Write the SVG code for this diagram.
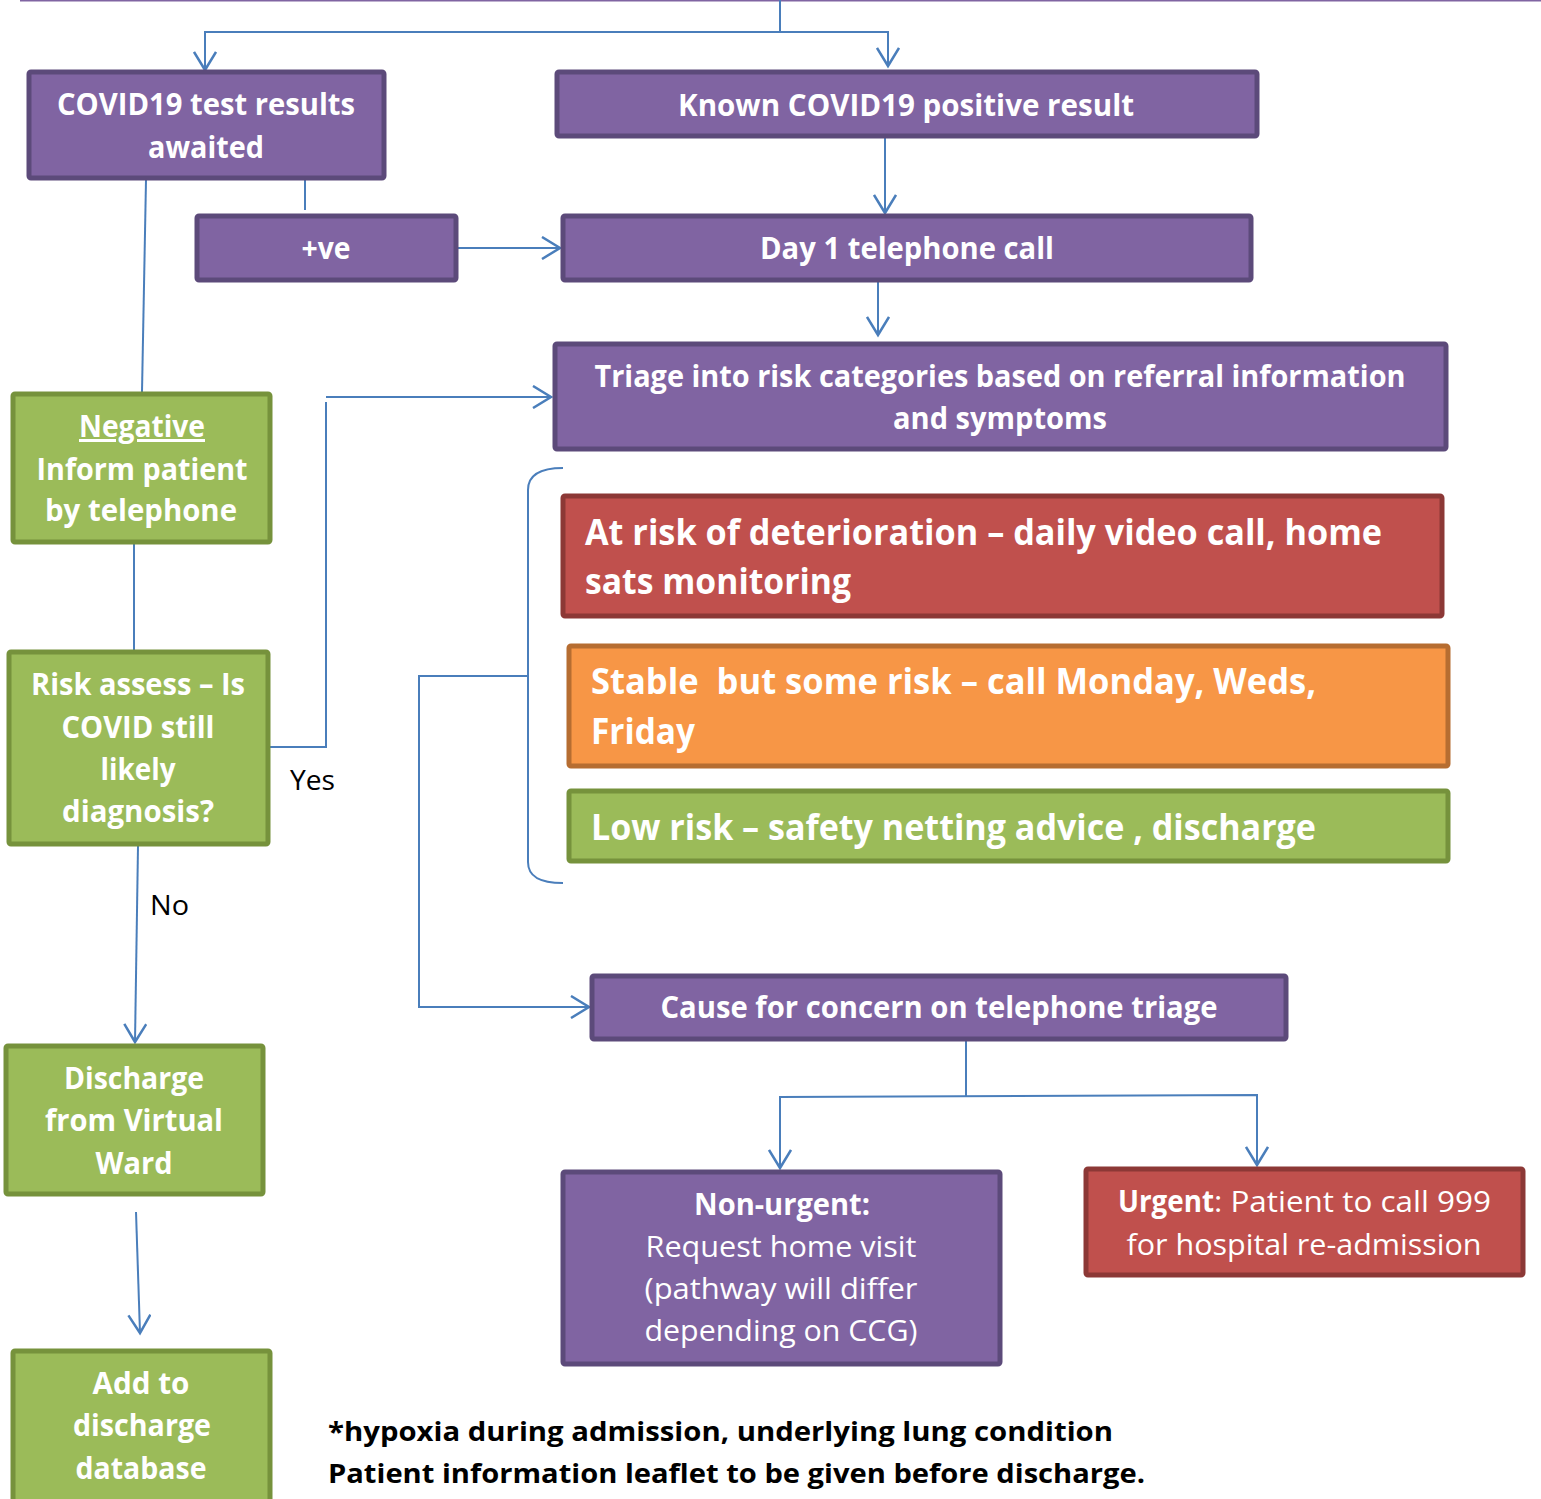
<svg xmlns="http://www.w3.org/2000/svg" width="1541" height="1499" viewBox="0 0 1541 1499">
<style>
.pb{fill:#8064a2;stroke:#5c4a7a;stroke-width:5}
.gb{fill:#9bbb59;stroke:#76923c;stroke-width:5}
.rb{fill:#c0504d;stroke:#8c3836;stroke-width:5}
.ob{fill:#f79646;stroke:#b66d31;stroke-width:5}
.t{font-family:"Open Sans","Noto Sans",sans-serif;font-weight:bold;fill:#fff;font-size:30px}
.tc{text-anchor:middle}
.r{font-weight:normal}
.big{font-size:35px}
.k{font-family:"Open Sans","Noto Sans",sans-serif;fill:#000;font-size:27px}
.c{fill:none;stroke:#4a7ebb;stroke-width:2}
</style>
<defs>
<marker id="a" markerUnits="userSpaceOnUse" markerWidth="24" markerHeight="24" refX="20" refY="12" orient="auto" viewBox="0 0 24 24">
<path d="M2,1 L20,12 L2,23" fill="none" stroke="#4a7ebb" stroke-width="2.5"/>
</marker>
</defs>
<line x1="20" y1="0.5" x2="1541" y2="0.5" stroke="#8064a2" stroke-width="2"/>
<g id="connectors">
<path class="c" d="M780,0 V32 H205 V70" marker-end="url(#a)"/>
<path class="c" d="M780,32 H888 V66" marker-end="url(#a)"/>
<path class="c" d="M305,180 V210"/>
<path class="c" d="M458,248 H560" marker-end="url(#a)"/>
<path class="c" d="M885,138 V213" marker-end="url(#a)"/>
<path class="c" d="M878,282 V335" marker-end="url(#a)"/>
<path class="c" d="M146,180 L142,392"/>
<path class="c" d="M134,544 V650"/>
<path class="c" d="M270,747 H326 V402"/>
<path class="c" d="M326,397 H551" marker-end="url(#a)"/>
<path class="c" d="M138,846 L135,1042" marker-end="url(#a)"/>
<path class="c" d="M136,1212 L140,1333" marker-end="url(#a)"/>
<path class="c" d="M563,468 C540,468 528,475 528,490 V862 C528,877 540,883 563,883"/>
<path class="c" d="M528,676 H419 V1007 H589" marker-end="url(#a)"/>
<path class="c" d="M966,1041 V1096"/>
<path class="c" d="M780,1168 V1097 L1257,1095 V1165" marker-end="url(#a)"/>
<path class="c" d="M780,1097 V1168" marker-end="url(#a)"/>
</g>
<g id="n-awaited">
<rect class="pb" x="29" y="72" width="355" height="106" rx="2"/>
<text class="t tc" x="206" y="115" textLength="298" lengthAdjust="spacingAndGlyphs">COVID19 test results</text>
<text class="t tc" x="206" y="158" textLength="116" lengthAdjust="spacingAndGlyphs">awaited</text>
</g>
<g id="n-known">
<rect class="pb" x="557" y="72" width="700" height="64" rx="2"/>
<text class="t tc" x="906" y="116" textLength="456" lengthAdjust="spacingAndGlyphs">Known COVID19 positive result</text>
</g>
<g id="n-pos">
<rect class="pb" x="197" y="216" width="259" height="64" rx="2"/>
<text class="t tc" x="326" y="259" textLength="49" lengthAdjust="spacingAndGlyphs">+ve</text>
</g>
<g id="n-day1">
<rect class="pb" x="563" y="216" width="688" height="64" rx="2"/>
<text class="t tc" x="907" y="259" textLength="294" lengthAdjust="spacingAndGlyphs">Day 1 telephone call</text>
</g>
<g id="n-triage">
<rect class="pb" x="555" y="344" width="891" height="105" rx="2"/>
<text class="t tc" x="1000" y="387" textLength="811" lengthAdjust="spacingAndGlyphs">Triage into risk categories based on referral information</text>
<text class="t tc" x="1000" y="429" textLength="214" lengthAdjust="spacingAndGlyphs">and symptoms</text>
</g>
<g id="n-negative">
<rect class="gb" x="13" y="394" width="257" height="148" rx="2"/>
<text class="t tc" x="142" y="437" textLength="126" lengthAdjust="spacingAndGlyphs" text-decoration="underline">Negative</text>
<text class="t tc" x="142" y="480" textLength="211" lengthAdjust="spacingAndGlyphs">Inform patient</text>
<text class="t tc" x="141" y="521" textLength="192" lengthAdjust="spacingAndGlyphs">by telephone</text>
</g>
<g id="n-risk">
<rect class="gb" x="9" y="652" width="259" height="192" rx="2"/>
<text class="t tc" x="138" y="695" textLength="214" lengthAdjust="spacingAndGlyphs">Risk assess – Is</text>
<text class="t tc" x="138" y="738" textLength="153" lengthAdjust="spacingAndGlyphs">COVID still</text>
<text class="t tc" x="138" y="780" textLength="75" lengthAdjust="spacingAndGlyphs">likely</text>
<text class="t tc" x="138" y="822" textLength="152" lengthAdjust="spacingAndGlyphs">diagnosis?</text>
</g>
<text class="k" x="290" y="790" textLength="45" lengthAdjust="spacingAndGlyphs">Yes</text>
<text class="k" x="150" y="915" textLength="39" lengthAdjust="spacingAndGlyphs">No</text>
<g id="n-discharge">
<rect class="gb" x="6" y="1046" width="257" height="148" rx="2"/>
<text class="t tc" x="134" y="1089" textLength="140" lengthAdjust="spacingAndGlyphs">Discharge</text>
<text class="t tc" x="134" y="1131" textLength="178" lengthAdjust="spacingAndGlyphs">from Virtual</text>
<text class="t tc" x="134" y="1174" textLength="77" lengthAdjust="spacingAndGlyphs">Ward</text>
</g>
<g id="n-database">
<rect class="gb" x="13" y="1351" width="257" height="160" rx="2"/>
<text class="t tc" x="141" y="1394" textLength="97" lengthAdjust="spacingAndGlyphs">Add to</text>
<text class="t tc" x="142" y="1436" textLength="138" lengthAdjust="spacingAndGlyphs">discharge</text>
<text class="t tc" x="141" y="1479" textLength="131" lengthAdjust="spacingAndGlyphs">database</text>
</g>
<g id="n-atrisk">
<rect class="rb" x="563" y="496" width="879" height="120" rx="2"/>
<text class="t big" x="585" y="545" textLength="797" lengthAdjust="spacingAndGlyphs">At risk of deterioration – daily video call, home</text>
<text class="t big" x="585" y="594" textLength="266" lengthAdjust="spacingAndGlyphs">sats monitoring</text>
</g>
<g id="n-stable">
<rect class="ob" x="569" y="646" width="879" height="120" rx="2"/>
<text class="t big" x="591" y="694" textLength="725" lengthAdjust="spacingAndGlyphs" xml:space="preserve">Stable  but some risk – call Monday, Weds,</text>
<text class="t big" x="591" y="744" textLength="104" lengthAdjust="spacingAndGlyphs">Friday</text>
</g>
<g id="n-low">
<rect class="gb" x="569" y="791" width="879" height="70" rx="2"/>
<text class="t big" x="591" y="840" textLength="725" lengthAdjust="spacingAndGlyphs">Low risk – safety netting advice , discharge</text>
</g>
<g id="n-concern">
<rect class="pb" x="592" y="976" width="694" height="63" rx="2"/>
<text class="t tc" x="939" y="1018" textLength="557" lengthAdjust="spacingAndGlyphs">Cause for concern on telephone triage</text>
</g>
<g id="n-nonurgent">
<rect class="pb" x="563" y="1172" width="437" height="192" rx="2"/>
<text class="t tc" x="782" y="1215" textLength="176" lengthAdjust="spacingAndGlyphs">Non-urgent:</text>
<text class="t tc r" x="781" y="1257" textLength="271" lengthAdjust="spacingAndGlyphs">Request home visit</text>
<text class="t tc r" x="781" y="1299" textLength="273" lengthAdjust="spacingAndGlyphs">(pathway will differ</text>
<text class="t tc r" x="781" y="1341" textLength="273" lengthAdjust="spacingAndGlyphs">depending on CCG)</text>
</g>
<g id="n-urgent">
<rect class="rb" x="1086" y="1169" width="437" height="106" rx="2"/>
<text class="t" x="1118" y="1212"><tspan textLength="96" lengthAdjust="spacingAndGlyphs">Urgent</tspan><tspan class="r" font-weight="normal" textLength="277" lengthAdjust="spacingAndGlyphs">: Patient to call 999</tspan></text>
<text class="t tc r" x="1304" y="1255" textLength="355" lengthAdjust="spacingAndGlyphs">for hospital re-admission</text>
</g>
<g id="footnote">
<text class="k" font-weight="bold" font-size="29" x="328" y="1441" textLength="785" lengthAdjust="spacingAndGlyphs">*hypoxia during admission, underlying lung condition</text>
<text class="k" font-weight="bold" font-size="29" x="328" y="1483" textLength="817" lengthAdjust="spacingAndGlyphs">Patient information leaflet to be given before discharge.</text>
</g>
</svg>
